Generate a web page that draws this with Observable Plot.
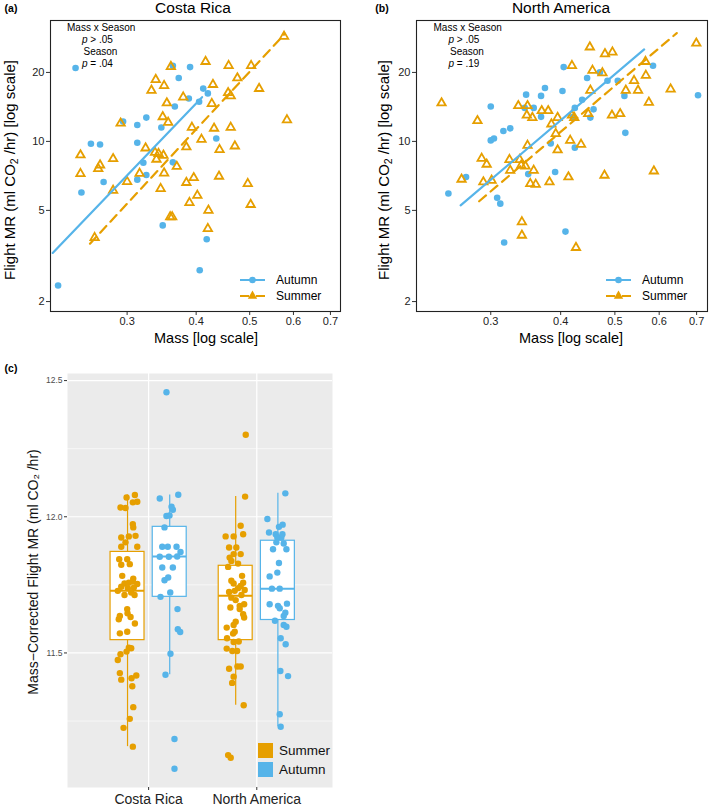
<!DOCTYPE html>
<html><head><meta charset="utf-8">
<script src="https://cdn.jsdelivr.net/npm/d3@7"></script>
<script src="https://cdn.jsdelivr.net/npm/@observablehq/plot@0.6"></script>
<style>
body{margin:0;background:#fff;}
#root{position:relative;width:709px;height:808px;overflow:hidden;font-family:"Liberation Sans",Arial,sans-serif;background:#fff;}
.abs{position:absolute;white-space:nowrap;line-height:1;}
.abs sub{font-size:0.7em;vertical-align:-0.3em;line-height:0;}
.panel{position:absolute;}
</style></head><body><div id="root"></div>
<script>
// ---------- colours ----------
const autumnColor = "#56B4E9";
const summerColor = "#E69F00";

// ---------- Panel (a): Costa Rica ----------
const crAutumnMass = [0.242,0.363,0.390,0.372,0.412,0.420,0.388,0.405,0.366,0.295,0.325,0.313,0.346,0.435,0.258,0.268,0.313,0.321,0.363,0.325,0.313,0.272,0.248,0.348,0.418,0.406,0.225];
const crAutumnMR   = [20.9,21.4,21.1,18.9,17.0,16.2,15.4,14.9,14.2,12.2,12.7,11.8,11.5,10.3,9.77,9.70,9.87,8.07,8.10,7.13,6.81,6.65,5.98,4.30,3.74,2.74,2.35];
const crSummerMass = [0.416,0.577,0.458,0.503,0.360,0.475,0.338,0.350,0.429,0.332,0.520,0.379,0.457,0.462,0.354,0.427,0.292,0.348,0.356,0.393,0.431,0.462,0.584,0.409,0.324,0.384,0.441,0.470,0.247,0.337,0.342,0.349,0.339,0.283,0.247,0.268,0.266,0.316,0.350,0.369,0.440,0.300,0.345,0.384,0.396,0.496,0.402,0.283,0.389,0.502,0.421,0.359,0.362,0.420,0.262];
const crSummerMR   = [22.3,28.7,21.4,21.4,21.2,18.9,18.6,17.5,17.7,16.7,17.0,15.6,16.3,15.8,14.7,14.6,12.0,12.8,12.1,11.5,11.4,11.5,12.4,10.2,9.35,9.45,9.2,9.54,8.72,8.95,8.84,8.69,8.35,8.4,7.23,7.88,7.6,7.25,7.27,7.77,7.04,6.67,6.22,6.61,6.94,6.54,5.81,6.11,5.40,5.30,5.00,4.68,4.68,4.16,3.80];
const crFitAutumnMass = [0.22, 0.41];
const crFitAutumnMR   = [3.26, 15.6];
const crFitSummerMass = [0.257, 0.579];
const crFitSummerMR   = [3.58, 29.5];

// ---------- Panel (b): North America ----------
const naAutumnMass = [0.405,0.585,0.446,0.485,0.506,0.470,0.704,0.520,0.375,0.347,0.369,0.403,0.437,0.300,0.345,0.358,0.369,0.424,0.458,0.452,0.421,0.325,0.316,0.300,0.304,0.522,0.384,0.424,0.391,0.350,0.271,0.252,0.308,0.312,0.317,0.408];
const naAutumnMR   = [21.1,21.4,18.9,18.4,18.4,20.0,15.9,15.8,17.1,16.0,15.8,16.6,15.2,14.2,14.0,14.0,12.8,14.0,13.8,12.7,12.8,11.4,11.1,10.1,10.3,10.9,9.8,9.39,7.35,7.2,6.99,5.92,5.68,5.35,3.62,4.04];
const naSummerMass = [0.245,0.451,0.480,0.495,0.699,0.419,0.456,0.475,0.567,0.541,0.568,0.452,0.523,0.550,0.629,0.575,0.336,0.349,0.348,0.356,0.370,0.380,0.284,0.395,0.385,0.419,0.423,0.448,0.494,0.511,0.392,0.416,0.435,0.349,0.395,0.289,0.295,0.324,0.338,0.340,0.325,0.346,0.358,0.266,0.291,0.301,0.353,0.361,0.382,0.413,0.479,0.587,0.341,0.341,0.426];
const naSummerMR   = [14.7,25.8,24.1,24.5,26.8,21.4,20.4,19.9,22.3,18.4,19.4,16.7,16.7,16.7,16.9,14.8,14.3,14.3,13.0,12.7,13.6,13.6,12.3,12.7,11.9,13.0,12.7,13.2,13.0,13.2,10.8,10.1,9.7,9.6,9.17,8.43,7.94,8.32,8.32,7.86,7.47,7.80,7.47,6.83,6.65,6.76,6.54,6.49,6.65,6.99,7.11,7.42,4.45,3.89,3.44];
const naFitAutumnMass = [0.265, 0.564];
const naFitAutumnMR   = [5.26, 25.2];
const naFitSummerMass = [0.286, 0.645];
const naFitSummerMR   = [5.48, 29.7];

const massTicks = [0.3, 0.4, 0.5, 0.6, 0.7];
const mrTicks = [2, 5, 10, 20];

// ---------- Panel (c): mass-corrected flight MR ----------
const regions = ["Costa Rica", "North America"];
const seasons = ["Summer", "Autumn"];
const crSummerVal = [12.071,12.080,12.055,12.053,12.034,12.032,11.973,11.961,11.924,11.928,11.930,11.906,11.890,11.890,11.844,11.844,11.824,11.826,11.783,11.773,11.755,11.758,11.762,11.753,11.743,11.738,11.740,11.728,11.722,11.713,11.713,11.661,11.636,11.646,11.632,11.624,11.608,11.572,11.578,11.519,11.517,11.505,11.495,11.474,11.426,11.402,11.407,11.417,11.378,11.301,11.258,11.225,11.156];
const crSummerJit = [-0.009,0.068,0.090,0.049,-0.065,-0.019,0.049,0.053,-0.058,0.012,0.074,-0.019,-0.058,0.090,-0.077,-0.003,-0.058,0.021,-0.049,0.053,-0.028,0.012,0.049,0.090,-0.058,0.003,0.058,-0.090,0.034,-0.028,0.065,-0.003,-0.071,0.000,0.028,-0.081,0.068,-0.071,-0.003,0.012,0.034,-0.009,-0.065,-0.090,-0.071,-0.058,0.037,0.081,0.044,0.053,0.021,-0.037,0.049];
const crAutumnVal = [12.457,12.067,12.081,12.037,12.026,12.003,12.005,11.961,11.890,11.890,11.890,11.871,11.853,11.853,11.854,11.814,11.814,11.767,11.777,11.722,11.706,11.661,11.587,11.577,11.497,11.420,11.184,11.075];
const crAutumnJit = [-0.030,-0.092,0.079,0.017,0.029,-0.030,-0.002,-0.048,-0.069,-0.018,0.063,0.100,-0.092,-0.008,0.069,-0.069,0.029,-0.048,-0.014,0.005,-0.085,0.072,0.075,0.097,0.007,-0.039,0.044,0.044];
const naSummerVal = [12.301,12.074,11.967,11.928,11.928,11.936,11.887,11.887,11.863,11.863,11.850,11.838,11.828,11.816,11.783,11.765,11.758,11.746,11.755,11.738,11.724,11.728,11.731,11.713,11.703,11.694,11.679,11.673,11.667,11.661,11.642,11.630,11.615,11.603,11.593,11.578,11.571,11.554,11.542,11.540,11.516,11.507,11.507,11.450,11.450,11.442,11.413,11.390,11.308,11.125,11.115];
const naSummerJit = [0.093,0.087,0.046,-0.093,-0.019,0.069,-0.061,0.006,-0.019,0.046,-0.056,-0.040,0.022,-0.070,0.059,-0.040,0.069,0.046,-0.019,0.022,-0.061,-0.009,0.083,0.053,-0.040,0.000,0.078,0.037,-0.049,0.037,0.069,0.078,0.000,-0.019,-0.083,-0.009,-0.024,-0.080,0.028,-0.019,-0.083,-0.031,0.013,0.016,0.046,-0.061,-0.019,-0.033,0.074,-0.070,-0.046];
const naAutumnVal = [12.086,11.992,11.963,11.971,11.942,11.936,11.924,11.924,11.936,11.906,11.902,11.881,11.881,11.830,11.781,11.795,11.736,11.736,11.679,11.673,11.681,11.664,11.648,11.636,11.618,11.603,11.596,11.554,11.532,11.434,11.415,11.275,11.229];
const naAutumnJit = [0.069,-0.097,0.010,0.044,-0.082,-0.020,0.032,-0.005,0.042,-0.014,0.054,-0.045,0.079,0.010,-0.076,-0.005,-0.055,0.017,-0.076,0.001,0.084,0.017,0.069,0.054,-0.027,0.054,0.079,0.026,0.072,0.023,0.094,0.017,0.026];
// box summaries (order: CR Summer, CR Autumn, NA Summer, NA Autumn)
const boxRegion = ["Costa Rica","Costa Rica","North America","North America"];
const boxSeason = ["Summer","Autumn","Summer","Autumn"];
const boxLow    = [11.156, 11.420, 11.308, 11.229];
const boxQ1     = [11.547, 11.706, 11.547, 11.621];
const boxMedian = [11.728, 11.854, 11.710, 11.736];
const boxQ3     = [11.871, 11.963, 11.820, 11.912];
const boxHigh   = [12.080, 12.080, 12.074, 12.086];
const cMajorTicks = [11.5, 12.0, 12.5];
const cMinorTicks = [11.25, 11.75, 12.25];

// ---------- helpers ----------
const root = document.getElementById("root");
const FONT = '"Liberation Sans", Arial, sans-serif';
function place(node, left, top) {
  const w = document.createElement("div");
  w.className = "panel"; w.style.left = left + "px"; w.style.top = top + "px";
  w.appendChild(node); root.appendChild(w);
}
function lab(html, x, y, o = {}) {
  const d = document.createElement("div");
  d.className = "abs"; d.innerHTML = html;
  d.style.left = x + "px"; d.style.top = y + "px";
  d.style.fontSize = (o.size || 12) + "px";
  d.style.fontWeight = o.weight || "normal";
  d.style.color = o.color || "#000";
  if (o.lh) d.style.lineHeight = o.lh;
  const tx = o.anchor === "start" ? "0" : o.anchor === "end" ? "-100%" : "-50%";
  d.style.transform = `translate(${tx},-50%)` + (o.rotate ? ` rotate(${o.rotate}deg)` : "");
  root.appendChild(d);
}
function legendKey(x, y, color, shape, dashed) {
  const ns = "http://www.w3.org/2000/svg";
  const s = document.createElementNS(ns, "svg");
  s.setAttribute("width", 28); s.setAttribute("height", 12);
  s.style.position = "absolute"; s.style.left = x + "px"; s.style.top = (y - 6) + "px";
  const l = document.createElementNS(ns, "line");
  l.setAttribute("x1", 1); l.setAttribute("x2", 26); l.setAttribute("y1", 6); l.setAttribute("y2", 6);
  l.setAttribute("stroke", color); l.setAttribute("stroke-width", 2);
  if (dashed) l.setAttribute("stroke-dasharray", "9,7");
  s.appendChild(l);
  const p = document.createElementNS(ns, "path");
  p.setAttribute("transform", "translate(13.5,6)");
  p.setAttribute("d", shape === "triangle" ? d3.symbol(d3.symbolTriangle, 38)() : d3.symbol(d3.symbolCircle, 34)());
  p.setAttribute("fill", color);
  s.appendChild(p);
  root.appendChild(s);
}
const zip = (xs, ys) => xs.slice(0, Math.min(xs.length, ys.length)).map((x, i) => ({mass: x, mr: ys[i]}));

function scatter(o) {
  return Plot.plot({
    width: o.width, height: 350,
    marginLeft: o.ml, marginRight: o.mr, marginTop: 20, marginBottom: 39,
    style: {fontFamily: FONT, fontSize: "11px", color: "#222", background: "transparent", overflow: "visible"},
    x: {type: "log", domain: o.xd},
    y: {type: "log", domain: [1.81, 33.7]},
    marks: [
      Plot.axisX(massTicks, {tickSize: 4, tickPadding: 2, fontSize: 11, tickFormat: d3.format(".1f"), label: null, stroke: "#333"}),
      Plot.axisY(mrTicks, {tickSize: 4, tickPadding: 2, fontSize: 11, tickFormat: d => String(d), label: null, stroke: "#333"}),
      Plot.dot(zip(o.aMass, o.aMR), {x: "mass", y: "mr", r: 3.3, fill: autumnColor, stroke: "none"}),
      Plot.dot(zip(o.sMass, o.sMR), {x: "mass", y: "mr", r: 3.1, symbol: "triangle", fill: "none", stroke: summerColor, strokeWidth: 1.8}),
      Plot.line(zip(o.faMass, o.faMR), {x: "mass", y: "mr", stroke: autumnColor, strokeWidth: 2.2}),
      Plot.line(zip(o.fsMass, o.fsMR), {x: "mass", y: "mr", stroke: summerColor, strokeWidth: 2.2, strokeDasharray: "9,6"}),
      Plot.frame({stroke: "#222", strokeWidth: 1.1})
    ]
  });
}

// ---------- panel (a) ----------
place(scatter({width: 350, ml: 50, mr: 10, xd: [0.218, 0.730],
  aMass: crAutumnMass, aMR: crAutumnMR, sMass: crSummerMass, sMR: crSummerMR,
  faMass: crFitAutumnMass, faMR: crFitAutumnMR, fsMass: crFitSummerMass, fsMR: crFitSummerMR}), 0, 0);
// ---------- panel (b) ----------
place(scatter({width: 354, ml: 61, mr: 2, xd: [0.221, 0.732],
  aMass: naAutumnMass, aMR: naAutumnMR, sMass: naSummerMass, sMR: naSummerMR,
  faMass: naFitAutumnMass, faMR: naFitAutumnMR, fsMass: naFitSummerMass, fsMR: naFitSummerMR}), 355, 0);

// ---------- panel (c) ----------
const dodge = {Summer: -0.195, Autumn: 0.195};
const regionPos = {"Costa Rica": 1, "North America": 2};
const boxes = boxRegion.map((r, i) => ({
  region: r, season: boxSeason[i], pos: regionPos[r] + dodge[boxSeason[i]],
  low: boxLow[i], q1: boxQ1[i], median: boxMedian[i], q3: boxQ3[i], high: boxHigh[i]
}));
function pts(region, season, vals, jit) {
  return vals.slice(0, Math.min(vals.length, jit.length)).map((v, i) => ({
    region, season, value: v, pos: regionPos[region] + dodge[season] + jit[i]
  }));
}
const points = [
  ...pts("Costa Rica", "Summer", crSummerVal, crSummerJit),
  ...pts("Costa Rica", "Autumn", crAutumnVal, crAutumnJit),
  ...pts("North America", "Summer", naSummerVal, naSummerJit),
  ...pts("North America", "Autumn", naAutumnVal, naAutumnJit)
];
const seasonColor = s => s === "Summer" ? summerColor : autumnColor;
const halfW = 0.157;
const plotC = Plot.plot({
  width: 360, height: 450,
  marginLeft: 67, marginRight: 28, marginTop: 15, marginBottom: 21,
  style: {fontFamily: FONT, fontSize: "9px", color: "#4d4d4d", background: "transparent", overflow: "visible"},
  x: {type: "linear", domain: [0.25, 2.70]},
  y: {domain: [11.006, 12.526]},
  marks: [
    Plot.frame({fill: "#EBEBEB", stroke: "none"}),
    Plot.gridY(cMinorTicks, {stroke: "#fff", strokeOpacity: 1, strokeWidth: 0.6}),
    Plot.gridY(cMajorTicks, {stroke: "#fff", strokeOpacity: 1, strokeWidth: 1.2}),
    Plot.gridX([1, 2], {stroke: "#fff", strokeOpacity: 1, strokeWidth: 1.2}),
    Plot.axisY(cMajorTicks, {tickSize: 3, tickPadding: 2, fontSize: 8.5, tickFormat: d3.format(".1f"), label: null, stroke: "#333", fill: "#4d4d4d"}),
    Plot.axisX([1, 2], {tickSize: 3, tickPadding: 4, fontSize: 14, tickFormat: d => regions[d - 1], label: null, stroke: "#333", fill: "#222"}),
    Plot.ruleX(boxes, {x: "pos", y1: "low", y2: "q1", stroke: d => seasonColor(d.season), strokeWidth: 1.2}),
    Plot.ruleX(boxes, {x: "pos", y1: "q3", y2: "high", stroke: d => seasonColor(d.season), strokeWidth: 1.2}),
    Plot.rect(boxes, {x1: d => d.pos - halfW, x2: d => d.pos + halfW, y1: "q1", y2: "q3", fill: "#fff", stroke: d => seasonColor(d.season), strokeWidth: 1.2}),
    Plot.ruleY(boxes, {y: "median", x1: d => d.pos - halfW, x2: d => d.pos + halfW, stroke: d => seasonColor(d.season), strokeWidth: 2}),
    Plot.dot(points, {x: "pos", y: "value", r: 3.2, fill: d => seasonColor(d.season), stroke: "none"})
  ]
});
place(plotC, 0, 358);

// ---------- text: titles, labels, annotations ----------
lab("(a)", 11, 8, {size: 10.5, weight: "bold"});
lab("(b)", 382, 8, {size: 10.5, weight: "bold"});
lab("(c)", 11, 368, {size: 10.5, weight: "bold"});
lab("Costa Rica", 193, 8, {size: 15.5});
lab("North America", 561, 8, {size: 15.5});
lab("Flight MR (ml CO<sub>2</sub> /hr) [log scale]", 9, 170, {size: 15, rotate: -90});
lab("Flight MR (ml CO<sub>2</sub> /hr) [log scale]", 383, 170, {size: 15, rotate: -90});
lab("Mass [log scale]", 206, 338, {size: 14.5});
lab("Mass [log scale]", 571, 338, {size: 14.5});
lab("Mass−Corrected Flight MR (ml CO₂ /hr)", 33, 572, {size: 14, rotate: -90, color: "#111"});

// annotations
const an = {size: 10, anchor: "start", lh: 0.8};
lab("Mass x Season", 67, 27.5, an);
lab("<i>p</i> &gt; .05", 82, 39.5, an);
lab("Season", 83.5, 51.5, an);
lab("<i>p</i> = .04", 82, 63.5, an);
lab("Mass x Season", 433.5, 27.5, an);
lab("<i>p</i> &gt; .05", 448.5, 39.5, an);
lab("Season", 450, 51.5, an);
lab("<i>p</i> = .19", 448.5, 63.5, an);

// legends (a), (b)
legendKey(239, 280, autumnColor, "circle", false);
legendKey(239, 296, summerColor, "triangle", true);
lab("Autumn", 276, 280, {size: 12, anchor: "start"});
lab("Summer", 276, 296, {size: 12, anchor: "start"});
legendKey(605, 280, autumnColor, "circle", false);
legendKey(605, 296, summerColor, "triangle", true);
lab("Autumn", 642, 280, {size: 12, anchor: "start"});
lab("Summer", 642, 296, {size: 12, anchor: "start"});

// legend (c)
function swatch(x, y, color) {
  const d = document.createElement("div");
  d.style.cssText = `position:absolute;left:${x}px;top:${y}px;width:15px;height:15px;background:${color};`;
  root.appendChild(d);
}
swatch(258, 743, summerColor);
swatch(258, 762, autumnColor);
lab("Summer", 279, 751, {size: 13.5, anchor: "start", color: "#111"});
lab("Autumn", 279, 769.5, {size: 13.5, anchor: "start", color: "#111"});
</script></body></html>
